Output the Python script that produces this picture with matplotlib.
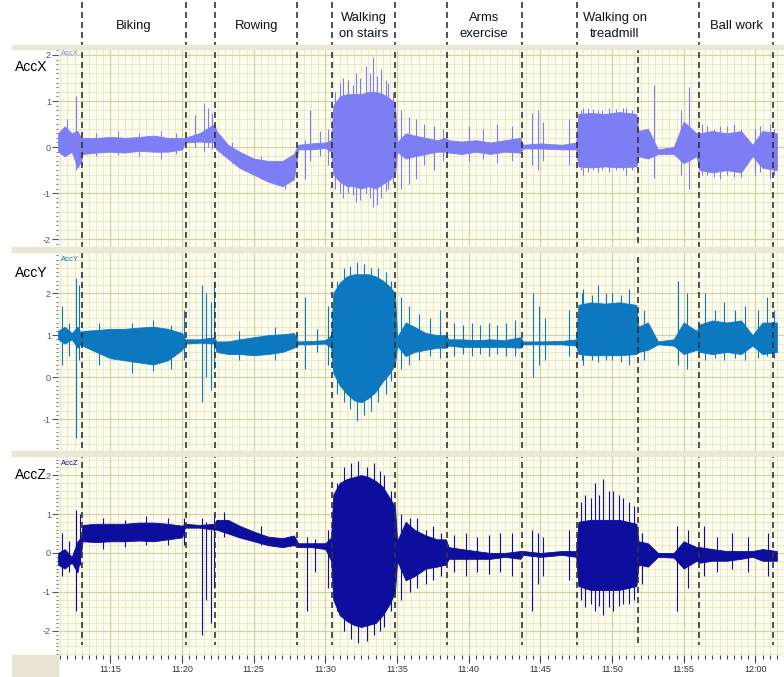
import numpy as np
import matplotlib
matplotlib.use("Agg")
import matplotlib.pyplot as plt
from matplotlib.patches import Rectangle

plt.rcParams["font.family"] = ["Liberation Sans", "DejaVu Sans"]
plt.rcParams["axes.unicode_minus"] = False

# ── Data (time = minutes after 11:00) ────────────────────────────────
bound_t = [13.0, 20.25, 22.3, 28.04, 30.46, 34.88, 38.46, 43.71, 47.57, 51.78, 56.06, 61.24]
bound_header = [True, True, True, True, True, True, True, True, True, False, True, True]

activity_labels = ["Biking", "Rowing", "Walking\non stairs", "Arms\nexercise",
                   "Walking on\ntreadmill", "Ball work"]
activity_mid = [16.62, 25.17, 32.67, 41.08, 50.2, 58.65]

tick_minutes = [15, 20, 25, 30, 35, 40, 45, 50, 55, 60]
tick_labels = ["11:15", "11:20", "11:25", "11:30", "11:35", "11:40",
               "11:45", "11:50", "11:55", "12:00"]

# envelope knots shared by the three channels
t_knots = [11.35, 11.8, 12.3, 12.7, 12.95,
           13.05, 14, 15, 16, 17, 18, 19, 20.0,
           20.2, 21.2, 22.25,
           22.4, 23.2, 24, 25, 26, 27, 27.8,
           28.1, 29, 30, 30.4,
           30.55, 31, 31.5, 32, 32.5, 33, 33.5, 34, 34.5, 34.85,
           35.0, 35.6, 36.2, 37, 37.8, 38.4,
           38.6, 39.5, 40.5, 41.5, 42.5, 43.6,
           43.8, 45, 46.5, 47.5,
           47.65, 48.5, 49.5, 50.5, 51.7,
           51.85, 52.5, 53.2, 54.3, 55, 55.9,
           56.1, 57, 58, 59, 59.8, 60.5, 61.5]

accx_lo = [-0.1, -0.2, -0.1, -0.45, -0.3,
           -0.15, -0.12, -0.1, -0.12, -0.08, -0.1, -0.1, -0.05,
           0.1, 0.12, 0.1,
           -0.05, -0.25, -0.45, -0.6, -0.75, -0.85, -0.7,
           -0.05, -0.05, -0.02, -0.1,
           -0.6, -0.75, -0.85, -0.85, -0.9, -0.85, -0.9, -0.8, -0.7, -0.6,
           -0.1, -0.25, -0.2, -0.15, -0.1, -0.1,
           -0.12, -0.15, -0.1, -0.15, -0.1, -0.12,
           -0.03, -0.03, -0.05, -0.05,
           -0.42, -0.44, -0.42, -0.44, -0.42,
           -0.2, -0.25, -0.15, -0.15, -0.35, -0.2,
           -0.5, -0.55, -0.5, -0.55, -0.2, -0.45, -0.5]
accx_hi = [0.3, 0.45, 0.3, 0.35, 0.2,
           0.2, 0.2, 0.22, 0.2, 0.22, 0.25, 0.2, 0.2,
           0.2, 0.3, 0.5,
           0.35, 0.05, -0.1, -0.25, -0.3, -0.3, -0.15,
           0.05, 0.08, 0.1, 0.15,
           0.9, 1.1, 1.15, 1.15, 1.15, 1.2, 1.2, 1.15, 1.05, 0.95,
           0.1, 0.3, 0.25, 0.2, 0.15, 0.2,
           0.15, 0.12, 0.15, 0.1, 0.15, 0.2,
           0.05, 0.08, 0.05, 0.1,
           0.72, 0.74, 0.72, 0.76, 0.72,
           0.35, 0.4, -0.05, 0.0, 0.55, 0.3,
           0.3, 0.35, 0.3, 0.35, 0.05, 0.35, 0.3]

accy_lo = [0.9, 0.8, 0.9, 0.7, 0.8,
           0.75, 0.6, 0.45, 0.4, 0.35, 0.3, 0.4, 0.65,
           0.8, 0.82, 0.8,
           0.6, 0.55, 0.55, 0.52, 0.55, 0.6, 0.7,
           0.78, 0.78, 0.8, 0.7,
           0.1, -0.2, -0.4, -0.55, -0.6, -0.5, -0.35, -0.1, 0.1, 0.3,
           0.75, 0.5, 0.6, 0.65, 0.7, 0.7,
           0.75, 0.72, 0.72, 0.72, 0.72, 0.7,
           0.78, 0.78, 0.78, 0.75,
           0.55, 0.52, 0.52, 0.52, 0.55,
           0.6, 0.65, 0.78, 0.75, 0.55, 0.65,
           0.6, 0.55, 0.6, 0.55, 0.75, 0.55, 0.6]
accy_hi = [1.1, 1.2, 1.05, 1.2, 1.05,
           1.1, 1.12, 1.15, 1.15, 1.18, 1.2, 1.15, 1.05,
           0.9, 0.9, 0.95,
           0.85, 0.85, 0.9, 0.95, 1.0, 1.02, 1.05,
           0.85, 0.86, 0.88, 1.0,
           2.0, 2.25, 2.4, 2.45, 2.45, 2.45, 2.4, 2.3, 2.15, 2.0,
           0.95, 1.3, 1.2, 1.05, 1.0, 1.0,
           0.9, 0.9, 0.88, 0.9, 0.88, 0.95,
           0.85, 0.85, 0.86, 0.9,
           1.72, 1.78, 1.75, 1.78, 1.72,
           1.2, 1.3, 0.85, 0.9, 1.3, 1.1,
           1.25, 1.35, 1.3, 1.35, 1.0, 1.3, 1.3]

accz_lo = [-0.3, -0.4, -0.25, -0.5, 0.0,
           0.3, 0.28, 0.3, 0.3, 0.32, 0.3, 0.35, 0.4,
           0.65, 0.65, 0.6,
           0.6, 0.5, 0.4, 0.3, 0.2, 0.15, 0.2,
           0.15, 0.15, 0.1, -0.2,
           -1.2, -1.6, -1.75, -1.85, -1.9, -1.85, -1.8, -1.6, -1.3, -1.0,
           -0.2, -0.7, -0.6, -0.4, -0.35, -0.3,
           -0.15, -0.15, -0.15, -0.15, -0.1, -0.15,
           -0.05, -0.1, -0.05, -0.1,
           -0.85, -0.95, -0.95, -0.95, -0.85,
           -0.3, -0.35, -0.1, -0.12, -0.4, -0.2,
           -0.25, -0.2, -0.2, -0.15, -0.1, -0.2, -0.2]
accz_hi = [0.0, 0.1, -0.1, 0.3, 0.4,
           0.72, 0.75, 0.75, 0.75, 0.78, 0.78, 0.75, 0.7,
           0.75, 0.72, 0.75,
           0.85, 0.85, 0.7, 0.55, 0.42, 0.38, 0.45,
           0.25, 0.25, 0.25, 0.4,
           1.5, 1.8, 1.9, 1.95, 2.0, 1.95, 1.85, 1.7, 1.4, 1.2,
           0.3, 0.8, 0.6, 0.45, 0.35, 0.35,
           0.15, 0.1, 0.05, 0.0, 0.0, 0.05,
           0.05, 0.0, 0.05, 0.05,
           0.8, 0.85, 0.85, 0.85, 0.75,
           0.3, 0.25, 0.0, 0.0, 0.3, 0.15,
           0.15, 0.1, 0.05, 0.05, 0.05, 0.1, 0.05]

# isolated spikes (time, low, high)
accx_spk_t = [12.0, 12.6, 14.0, 15.5, 17.0, 18.5, 19.6, 20.9, 21.5, 21.8, 22.1,
              23.5, 25.5, 27.2, 28.6, 28.9, 29.6, 30.2,
              30.7, 31.0, 31.2, 31.6, 31.9, 32.1, 32.4, 32.8, 33.1, 33.3, 33.6, 33.9,
              34.2, 34.4, 34.7,
              35.3, 35.8, 36.3, 36.9, 37.6, 38.2, 40.0, 41.0, 42.0, 43.0,
              44.4, 44.8, 45.2, 47.0,
              47.8, 48.0, 48.3, 48.7, 49.0, 49.3, 49.8, 50.3, 50.8, 51.0, 51.4,
              52.9, 54.8, 55.4, 56.3, 56.6, 57.1, 57.5, 58.0, 58.5, 59.0, 60.0,
              60.3, 61.0, 61.3]
accx_spk_lo = [-0.1, -0.5, -0.2, -0.18, -0.2, -0.25, -0.15, 0.0, -0.1, 0.0, -0.05,
               -0.35, -0.7, -0.9, -0.7, -0.3, -0.2, -0.4,
               -0.9, -1.0, -1.1, -1.0, -1.05, -1.2, -1.15, -1.0, -1.1, -1.3, -1.25, -1.1,
               -0.95, -0.9, -0.8,
               -0.9, -0.8, -0.7, -0.4, -0.5, -0.3, -0.3, -0.25, -0.35, -0.3,
               -0.4, -0.5, -0.3, -0.4,
               -0.5, -0.6, -0.55, -0.5, -0.55, -0.5, -0.55, -0.5, -0.5, -0.6, -0.5,
               -0.67, -0.6, -0.9, -0.6, -0.6, -0.65, -0.7, -0.6, -0.65, -0.65, -0.6,
               -0.55, -0.7, -0.6]
accx_spk_hi = [0.6, 1.1, 0.3, 0.35, 0.3, 0.35, 0.3, 0.7, 0.95, 0.85, 0.75,
               0.1, -0.2, -0.25, 0.15, 0.8, 0.35, 0.4,
               1.2, 1.4, 1.5, 1.45, 1.35, 1.6, 1.5, 1.75, 1.6, 1.95, 1.55, 1.7,
               1.45, 1.4, 1.2,
               0.8, 0.65, 0.6, 0.5, 0.45, 0.4, 0.45, 0.4, 0.5, 0.45,
               0.75, 0.8, 0.55, 0.6,
               0.8, 0.85, 0.85, 0.82, 0.8, 0.8, 0.85, 0.82, 0.85, 0.85, 0.8,
               1.35, 0.8, 1.3, 0.5, 0.45, 0.4, 0.45, 0.45, 0.5, 0.4, 0.4,
               0.45, 0.5, 0.4]

accy_spk_t = [11.6, 12.1, 12.6, 12.8, 14.2, 16.5, 18.0, 19.2, 20.1, 21.4, 21.7, 22.0, 22.2,
              24.0, 26.5, 28.6, 29.4, 30.2,
              30.8, 31.3, 31.7, 32.2, 32.7, 33.2, 33.7, 34.2, 34.6,
              35.3, 35.8, 36.5, 37.3, 38.0, 39.0, 39.6, 40.2, 40.8, 41.4, 42.0,
              42.6, 43.2, 44.5, 44.9, 45.3, 47.0,
              47.9, 48.0, 48.6, 49.0, 49.6, 50.0, 50.6, 51.2, 52.2, 54.6, 55.2,
              56.5, 57.2, 57.8, 58.6, 59.3, 60.2, 60.8, 61.3]
accy_spk_lo = [0.3, 0.5, -1.45, 0.4, 0.3, 0.1, 0.15, 0.2, 0.4, -0.6, 0.0, -0.3, 0.2,
               0.4, 0.4, 0.2, 0.6, 0.3,
               -0.4, -0.6, -0.75, -1.05, -0.9, -0.8, -0.6, -0.4, -0.1,
               0.2, 0.3, 0.4, 0.5, 0.45, 0.5, 0.55, 0.5, 0.55, 0.5, 0.55,
               0.5, 0.5, 0.0, 0.3, 0.4, 0.5,
               0.4, 0.3, 0.4, 0.35, 0.4, 0.4, 0.35, 0.3, 0.4, 0.3, 0.2,
               0.4, 0.45, 0.4, 0.45, 0.4, 0.45, 0.5, 0.45]
accy_spk_hi = [1.7, 1.3, 2.35, 2.2, 1.3, 1.3, 1.35, 1.25, 1.6, 2.2, 2.0, 1.8, 2.3,
               1.1, 1.2, 1.9, 1.15, 1.7,
               2.3, 2.6, 2.65, 2.75, 2.7, 2.6, 2.6, 2.5, 2.3,
               1.9, 1.7, 1.5, 1.4, 1.6, 1.3, 1.25, 1.3, 1.25, 1.3, 1.25,
               1.3, 1.35, 2.0, 1.7, 1.4, 1.6,
               2.0, 2.1, 1.95, 2.2, 2.0, 2.0, 1.95, 2.1, 1.6, 2.3, 2.0,
               2.0, 1.6, 1.8, 1.6, 1.7, 1.6, 1.9, 1.6]

accz_spk_t = [11.6, 12.1, 12.6, 12.85, 14.5, 16.0, 17.5, 19.0, 20.1, 21.4, 21.7, 22.0, 22.2,
              22.9, 25.5, 28.7, 29.3, 30.2,
              30.8, 31.3, 31.8, 32.3, 32.9, 33.4, 33.8, 34.1, 34.6,
              35.3, 35.9, 36.4, 37.0, 37.5, 38.1, 39.0, 39.8, 40.6, 41.4, 42.2, 43.0,
              44.4, 44.8, 45.2, 47.0,
              47.8, 48.1, 48.5, 48.8, 49.1, 49.4, 49.8, 50.1, 50.5, 50.8, 51.2, 51.5, 52.1,
              54.5, 55.3, 56.4, 57.3, 58.4, 59.5, 60.9]
accz_spk_lo = [-0.6, -0.5, -1.5, -0.3, 0.1, 0.15, 0.2, 0.2, 0.2, -2.1, -1.2, -1.8, -0.9,
               0.4, 0.2, -1.5, -0.5, -0.9,
               -1.5, -2.0, -2.2, -2.3, -2.25, -2.1, -2.0, -1.9, -1.5,
               -1.2, -1.0, -0.9, -0.8, -0.7, -0.6, -0.5, -0.6, -0.5, -0.55, -0.5, -0.6,
               -1.5, -0.8, -0.6, -0.7,
               -1.2, -1.4, -1.3, -1.5, -1.35, -1.6, -1.4, -1.5, -1.35, -1.3, -1.3, -1.2, -0.8,
               -1.5, -0.9, -0.6, -0.5, -0.4, -0.5, -0.6]
accz_spk_hi = [0.5, 0.3, 1.1, 1.0, 0.9, 0.85, 0.95, 0.9, 0.9, 0.9, 0.8, 0.6, 1.0,
               1.05, 0.7, 0.4, 0.35, 0.6,
               1.8, 2.2, 2.3, 2.35, 2.2, 2.3, 2.1, 2.0, 1.6,
               1.0, 0.9, 0.9, 0.6, 0.7, 0.5, 0.45, 0.5, 0.4, 0.45, 0.5, 0.5,
               0.6, 0.5, 0.4, 0.6,
               1.3, 1.5, 1.4, 1.8, 1.5, 1.9, 1.6, 1.6, 1.5, 1.4, 1.3, 1.2, 0.5,
               0.7, 0.6, 0.7, 0.4, 0.5, 0.4, 0.5]

# ── Layout (pixels of the 784x677 canvas) ────────────────────────────
W, H = 784, 677
X0 = 58
T_MIN, T_MAX = 11.34, 62.0

channels = [
    # name, color, lo, hi, spikes t/lo/hi, panel top/bottom px, ylim, yticks, label y px
    ("AccX", "#7E7EF4", accx_lo, accx_hi, accx_spk_t, accx_spk_lo, accx_spk_hi,
     49, 247, (-2.17, 2.13), [-2, -1, 0, 1, 2], 67, 2.03),
    ("AccY", "#0B78C0", accy_lo, accy_hi, accy_spk_t, accy_spk_lo, accy_spk_hi,
     252, 451, (-1.76, 2.98), [-1, 0, 1, 2], 273, 2.8),
    ("AccZ", "#0D0D9E", accz_lo, accz_hi, accz_spk_t, accz_spk_lo, accz_spk_hi,
     456, 655, (-2.62, 2.49), [-2, -1, 0, 1, 2], 475, 2.3),
]

fig = plt.figure(figsize=(W / 100, H / 100), dpi=100)
fig.patch.set_facecolor("white")

# beige separator strips and the corner box
for y0, y1 in [(45, 49), (247, 252), (451, 456)]:
    fig.patches.append(Rectangle((12 / W, 1 - y1 / H), (W - 12) / W, (y1 - y0) / H,
                                 transform=fig.transFigure, color="#ECE6D4", zorder=0))
fig.patches.append(Rectangle((12 / W, 0), (X0 - 12) / W, 22 / H,
                             transform=fig.transFigure, color="#E9E3D2", zorder=0))

for i, (name, col, lo, hi, st, slo, shi, top, bot, ylim, yt, lab_y, small_y) in enumerate(channels):
    ax = fig.add_axes([X0 / W, 1 - bot / H, (W - X0) / W, (bot - top) / H])
    ax.set_facecolor("#FDFDEE")
    for s in ax.spines.values():
        s.set_visible(False)

    # grid
    ax.set_yticks(yt)
    ax.set_yticks(np.arange(-3, 3.01, 0.1), minor=True)
    for v in np.arange(-3, 3.01, 0.2):
        ax.axhline(v, color="#E8E5C8", lw=0.6, zorder=0)
    for v in np.arange(11.5, 62.01, 0.5):
        ax.axvline(v, color="#E8E5C8", lw=0.6, zorder=0)
    for v in yt:
        ax.axhline(v, color="#D6D2A8", lw=0.9, zorder=0)
    for v in tick_minutes:
        ax.axvline(v, color="#D6D2A8", lw=0.9, zorder=0)

    ax.tick_params(axis="y", which="major", length=4, width=0.8, color="#555555",
                   labelsize=6.5, labelcolor="#555555", pad=1)
    ax.tick_params(axis="y", which="minor", length=1.5, width=0.8, color="#777777")

    # signal
    ax.fill_between(t_knots, lo, hi, color=col, lw=0.6, zorder=2)
    ax.vlines(st, slo, shi, color=col, lw=0.8, zorder=2)

    ax.text(11.55, small_y, name, color=col, fontsize=5.5, va="center", ha="left")
    fig.text(47 / W, 1 - lab_y / H, name, fontsize=10, ha="right", va="center")

    if i < 2:
        ax.set_xticks([])
    else:
        ax.set_xticks(tick_minutes)
        ax.set_xticklabels(tick_labels)
        ax.set_xticks(np.arange(11.5, 62.01, 0.5), minor=True)
        ax.tick_params(axis="x", which="major", length=6, width=0.8, color="#444444",
                       labelsize=6.5, labelcolor="#333333", pad=1)
        ax.tick_params(axis="x", which="minor", length=3, width=0.8, color="#444444")

    # limits last, set_ticks would widen them
    ax.set_xlim(T_MIN, T_MAX)
    ax.set_ylim(*ylim)

# overlay: activity boundaries and header labels
ov = fig.add_axes([X0 / W, 0, (W - X0) / W, 1], facecolor="none")
ov.set_xlim(T_MIN, T_MAX)
ov.set_ylim(H, 0)
ov.axis("off")
for t, full in zip(bound_t, bound_header):
    ov.vlines(t, 2 if full else 47, 645, color="#333333", lw=1.2,
              linestyles=(0, (3.6, 2.4)), zorder=5)
for lab, mid in zip(activity_labels, activity_mid):
    ov.text(mid, 26, lab, fontsize=9.4, ha="center", va="center",
            linespacing=1.45, color="#111111")

fig.savefig("out.png", dpi=100)
